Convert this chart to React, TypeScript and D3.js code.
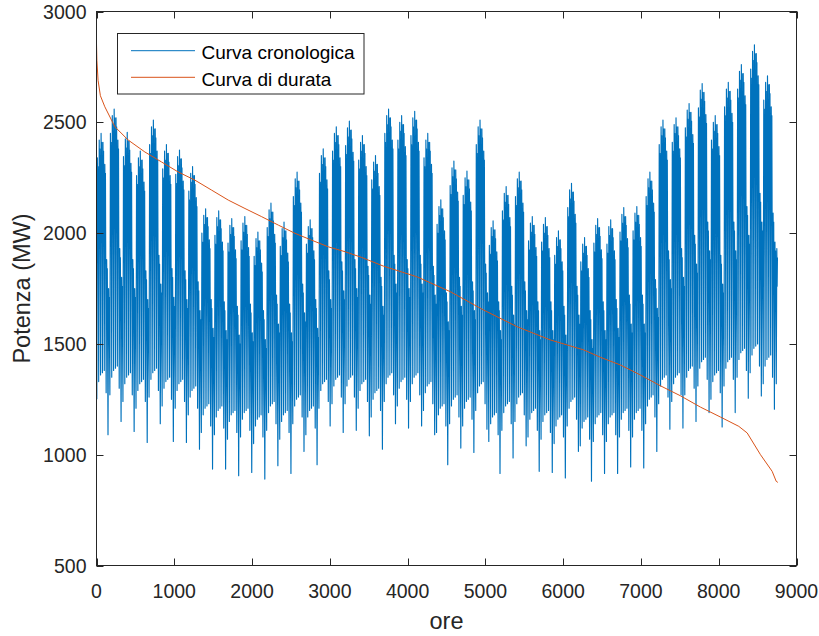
import React from 'react';
import * as d3 from 'd3';

// ---- Data (weekly envelopes of the hourly load, MW) ----
// week k covers days 7k..7k+6 (Mon..Sun); hour = 24*day + h
const weekdayPeak = [2450, 2560, 2455, 2370, 2510, 2400, 2375, 2300, 2110, 2100, 2065, 2075, 2005, 2135, 2050, 2275, 2060, 2380, 2480, 2505, 2440, 2350, 2560, 2530, 2550, 2450, 2150, 2325, 2280, 2510, 2055, 2210, 2275, 2075, 2070, 2010, 2225, 1980, 2065, 2060, 2115, 2120, 2275, 2510, 2520, 2585, 2675, 2530, 2680, 2760, 2850, 2710, 2040];
const weekdayLow = [1360, 1380, 1350, 1320, 1370, 1330, 1320, 1290, 1210, 1200, 1180, 1190, 1160, 1220, 1180, 1250, 1200, 1320, 1340, 1340, 1320, 1280, 1350, 1330, 1350, 1310, 1210, 1250, 1240, 1310, 1170, 1220, 1260, 1190, 1180, 1160, 1240, 1150, 1170, 1170, 1190, 1190, 1250, 1340, 1350, 1380, 1420, 1360, 1420, 1460, 1480, 1430, 1430];
const weekendPeak = [1880, 1930, 1880, 1830, 1900, 1840, 1830, 1780, 1700, 1690, 1670, 1680, 1650, 1720, 1680, 1770, 1700, 1830, 1870, 1880, 1850, 1800, 1900, 1880, 1900, 1850, 1730, 1800, 1780, 1860, 1690, 1760, 1780, 1690, 1690, 1670, 1760, 1650, 1690, 1700, 1720, 1720, 1790, 1920, 1930, 1990, 2050, 1900, 2050, 2120, 2180, 2090, 1900];
const weekendLow = [1090, 1150, 1105, 1055, 1140, 1060, 1055, 1025, 935, 935, 905, 920, 890, 950, 915, 1015, 955, 1130, 1100, 1110, 1085, 1025, 1140, 1120, 1130, 1090, 955, 1030, 1010, 1115, 915, 985, 1040, 925, 920, 895, 1015, 880, 915, 915, 945, 940, 1015, 1115, 1120, 1150, 1190, 1125, 1190, 1255, 1265, 1205, 1250];
// per-day deviations inside a week (MW)
const weekdayPeakOffset = [-110, -30, 0, -40, -140]; // Mon..Fri vs weekly max
const lowOffset = [-110, -30, 0, 10, 20, -80]; // Mon..Sat vs weekday low
const sundayPeakOffset = -130;
// intraday points: hour of day and deviation from that day's peak (the low uses the day's low)
const lowHour = 4;
const peakHour = 11;
const afternoonHour = 15;
const afternoonOffset = -170;
const eveningHour = 19;
const eveningOffset = -40;
const DAYS = 365;

// Duration curve (sorted load)
const durationHours = [0, 5, 20, 50, 107, 236, 407, 622, 836, 1050, 1265, 1480, 1694, 1909, 2124, 2338, 2552, 2767, 2981, 3196, 3411, 3689, 4118, 4547, 4976, 5405, 5834, 6263, 6477, 6735, 6992, 7250, 7507, 7764, 8022, 8258, 8366, 8537, 8687, 8739, 8760];
const durationMW = [2855, 2780, 2690, 2620, 2570, 2480, 2420, 2366, 2321, 2276, 2239, 2194, 2149, 2111, 2074, 2036, 1999, 1968, 1938, 1916, 1890, 1851, 1803, 1736, 1653, 1578, 1518, 1473, 1440, 1405, 1360, 1311, 1266, 1215, 1170, 1128, 1098, 1000, 925, 880, 875];

const xTicks = [0, 1000, 2000, 3000, 4000, 5000, 6000, 7000, 8000, 9000];
const yTicks = [500, 1000, 1500, 2000, 2500, 3000];
const seriesNames = ['Curva cronologica', 'Curva di durata'];
const xLabel = 'ore';
const yLabel = 'Potenza (MW)';

const BLUE = '#0072BD';
const RED = '#D95319';
const AX = '#262626';
const FONT = '"Liberation Sans", Arial, Helvetica, sans-serif';

export default function App() {
  const W = 819, H = 636;
  const left = 96.5, right = 796.5, top = 11.5, bottom = 565.5;
  const x = d3.scaleLinear().domain([0, 9000]).range([left, right]);
  const y = d3.scaleLinear().domain([500, 3000]).range([bottom, top]);

  const chrono: [number, number][] = [];
  for (let d = 0; d < DAYS; d++) {
    const k = Math.floor(d / 7);
    const dow = d % 7;
    const low = dow === 6 ? weekendLow[k] : weekdayLow[k] + lowOffset[dow];
    const peak = dow < 5 ? weekdayPeak[k] + weekdayPeakOffset[dow]
      : dow === 5 ? weekendPeak[k] : weekendPeak[k] + sundayPeakOffset;
    chrono.push([24 * d + lowHour, low]);
    chrono.push([24 * d + peakHour, peak]);
    chrono.push([24 * d + afternoonHour, peak + afternoonOffset]);
    chrono.push([24 * d + eveningHour, peak + eveningOffset]);
  }
  const duration: [number, number][] = durationHours.map((h, i) => [h, durationMW[i]]);

  const line = d3.line<[number, number]>().x(d => x(d[0])).y(d => y(d[1]));
  const tick = 7;

  return (
    <svg width={W} height={H} style={{ position: 'absolute', left: 0, top: 0, background: '#fff' }}
      fontFamily={FONT}>
      <rect x={0} y={0} width={W} height={H} fill="#fff" />
      <defs>
        <clipPath id="plot"><rect x={left} y={top} width={right - left} height={bottom - top} /></clipPath>
      </defs>
      <g clipPath="url(#plot)">
        <path d={line(chrono) || ''} fill="none" stroke={BLUE} strokeWidth={1.15} strokeLinejoin="round" />
        <path d={line(duration) || ''} fill="none" stroke={RED} strokeWidth={1} strokeLinejoin="round" />
      </g>
      {/* axes box */}
      <rect x={left} y={top} width={right - left} height={bottom - top} fill="none" stroke={AX} strokeWidth={1} />
      {xTicks.map(t => (
        <g key={'x' + t}>
          <line x1={Math.round(x(t)) + 0.5} x2={Math.round(x(t)) + 0.5} y1={bottom} y2={bottom - tick} stroke={AX} />
          <line x1={Math.round(x(t)) + 0.5} x2={Math.round(x(t)) + 0.5} y1={top} y2={top + tick} stroke={AX} />
          <text x={x(t)} y={597.5} fontSize={19.5} textAnchor="middle" fill={AX}>{t}</text>
        </g>
      ))}
      {yTicks.map(t => (
        <g key={'y' + t}>
          <line x1={left} x2={left + tick} y1={Math.round(y(t)) + 0.5} y2={Math.round(y(t)) + 0.5} stroke={AX} />
          <line x1={right} x2={right - tick} y1={Math.round(y(t)) + 0.5} y2={Math.round(y(t)) + 0.5} stroke={AX} />
          <text x={86.5} y={y(t) + 7} fontSize={19.5} textAnchor="end" fill={AX}>{t}</text>
        </g>
      ))}
      <text x={(left + right) / 2} y={628.5} fontSize={23.5} textAnchor="middle" fill={AX}>{xLabel}</text>
      <text transform={`translate(30,${(top + bottom) / 2}) rotate(-90)`} fontSize={23.5} textAnchor="middle" fill={AX}>{yLabel}</text>
      {/* legend */}
      <rect x={117.5} y={33.5} width={246.5} height={60.5} fill="#fff" stroke={AX} strokeWidth={1} />
      <line x1={131} x2={195} y1={50.7} y2={50.7} stroke={BLUE} strokeWidth={1} />
      <text x={201.5} y={59.3} fontSize={19} fill="#000">{seriesNames[0]}</text>
      <line x1={131} x2={195} y1={77.3} y2={77.3} stroke={RED} strokeWidth={1} />
      <text x={201.5} y={85.8} fontSize={19} fill="#000">{seriesNames[1]}</text>
    </svg>
  );
}
